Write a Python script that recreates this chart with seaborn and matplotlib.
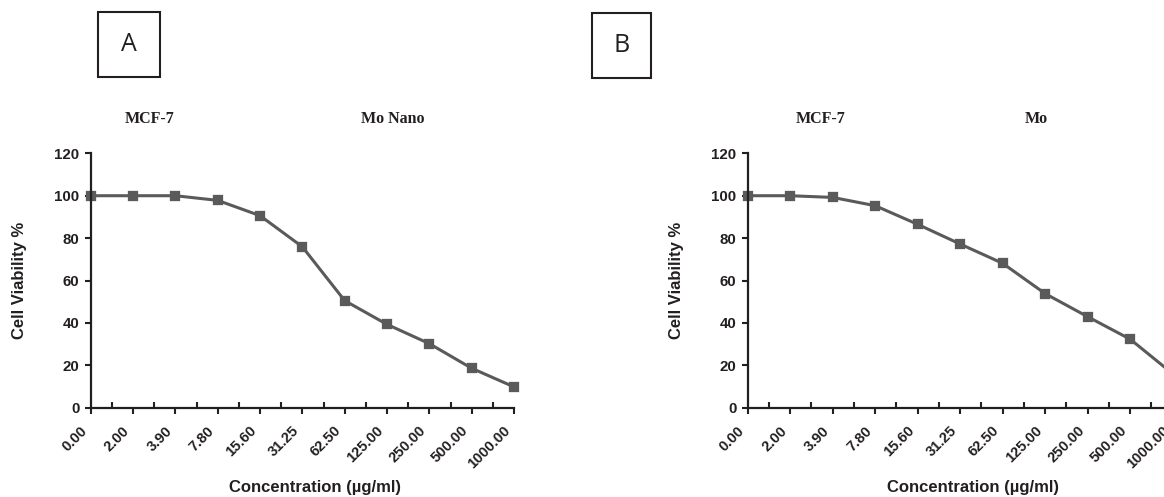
import seaborn as sns
import matplotlib.pyplot as plt
from matplotlib.patches import Rectangle
from matplotlib.ticker import MultipleLocator
from matplotlib.transforms import ScaledTranslation

# concentrations (ug/ml) as shown on the category axis
concentrations = ['0.00', '2.00', '3.90', '7.80', '15.60', '31.25',
                  '62.50', '125.00', '250.00', '500.00', '1000.00']
viability_mo_nano = [100, 100, 100, 97.8, 90.6, 75.9, 50.5, 39.3, 30.2, 18.6, 9.8]
viability_mo = [100, 100, 99.2, 95.3, 86.5, 77.2, 68.1, 53.8, 42.9, 32.3, 16]

panels = [
    ('A', 'Mo Nano', viability_mo_nano),
    ('B', 'Mo', viability_mo),
]

sns.set_theme(style='ticks')
plt.rcParams['font.family'] = ['Liberation Sans', 'DejaVu Sans']

fig = plt.figure(figsize=(11.64, 4.97), dpi=100)

axis_color = '#231f20'
line_color = '#5a5a5a'

# axes boxes in figure fractions; panel B runs past the right edge like the original
ax_boxes = [(0.0779, 0.1797, 0.3637, 0.5118),
            (0.6423, 0.1797, 0.3652, 0.5118)]
letter_boxes = [(98, 12, 62, 65), (592, 13, 59, 65)]
title_x = [(150, 393), (821, 1036)]

W, H = 1164.0, 497.0
shift_left = ScaledTranslation(-4 / 72, 0, fig.dpi_scale_trans)

for (letter, compound, values), box, lbox, tx in zip(panels, ax_boxes,
                                                    letter_boxes, title_x):
    ax = fig.add_axes(box)
    sns.pointplot(x=concentrations, y=values, ax=ax, color=line_color,
                  markers='s', markersize=5.5, linewidth=2.2, errorbar=None)
    for coll in ax.collections:
        coll.set_clip_on(False)
    for line in ax.lines:
        line.set_clip_on(False)

    ax.set_xlim(0, len(concentrations) - 1)
    ax.set_ylim(0, 120)
    ax.yaxis.set_major_locator(MultipleLocator(20))
    ax.xaxis.set_minor_locator(MultipleLocator(1, offset=0.5))
    sns.despine(ax=ax)
    for side in ['left', 'bottom']:
        ax.spines[side].set_linewidth(1.6)
        ax.spines[side].set_color(axis_color)

    ax.tick_params(axis='y', direction='out', length=4, width=1.5,
                   color=axis_color, labelsize=10.8, pad=4)
    ax.tick_params(axis='x', which='major', direction='out', length=4,
                   width=1.5, color=axis_color, labelsize=10.5, pad=11)
    ax.tick_params(axis='x', which='minor', direction='in', length=4,
                   width=1.5, color=axis_color)
    for lab in ax.get_yticklabels():
        lab.set_fontweight('bold')
        lab.set_color(axis_color)
    for lab in ax.get_xticklabels():
        lab.set_fontweight('bold')
        lab.set_color(axis_color)
        lab.set_rotation(45)
        lab.set_ha('right')
        lab.set_va('center')
        lab.set_rotation_mode('anchor')
        lab.set_transform(lab.get_transform() + shift_left)

    ax.set_xlabel('Concentration (\u00b5g/ml)', fontsize=12,
                  fontweight='bold', color=axis_color)
    ax.set_ylabel('Cell Viability %', fontsize=12, fontweight='bold',
                  color=axis_color)
    ax.xaxis.set_label_coords(0.531, -0.285)
    ax.yaxis.set_label_coords(-0.15, 0.5)

    # panel titles (serif, bold)
    fig.text(tx[0] / W, 1 - 119 / H, 'MCF-7', family='Liberation Serif',
             fontweight='bold', fontsize=11.5, ha='center', va='center',
             color=axis_color)
    fig.text(tx[1] / W, 1 - 119 / H, compound, family='Liberation Serif',
             fontweight='bold', fontsize=11.5, ha='center', va='center',
             color=axis_color)

    # boxed panel letter
    x0, y0, w, h = lbox
    fig.patches.append(Rectangle((x0 / W, 1 - (y0 + h) / H), w / W, h / H,
                                 transform=fig.transFigure, fill=False,
                                 edgecolor=axis_color, linewidth=1.5))
    fig.text((x0 + w / 2) / W, 1 - (y0 + h / 2) / H, letter, fontsize=18,
             ha='center', va='center', color=axis_color, family='Open Sans')

fig.savefig('out.png', dpi=100)
